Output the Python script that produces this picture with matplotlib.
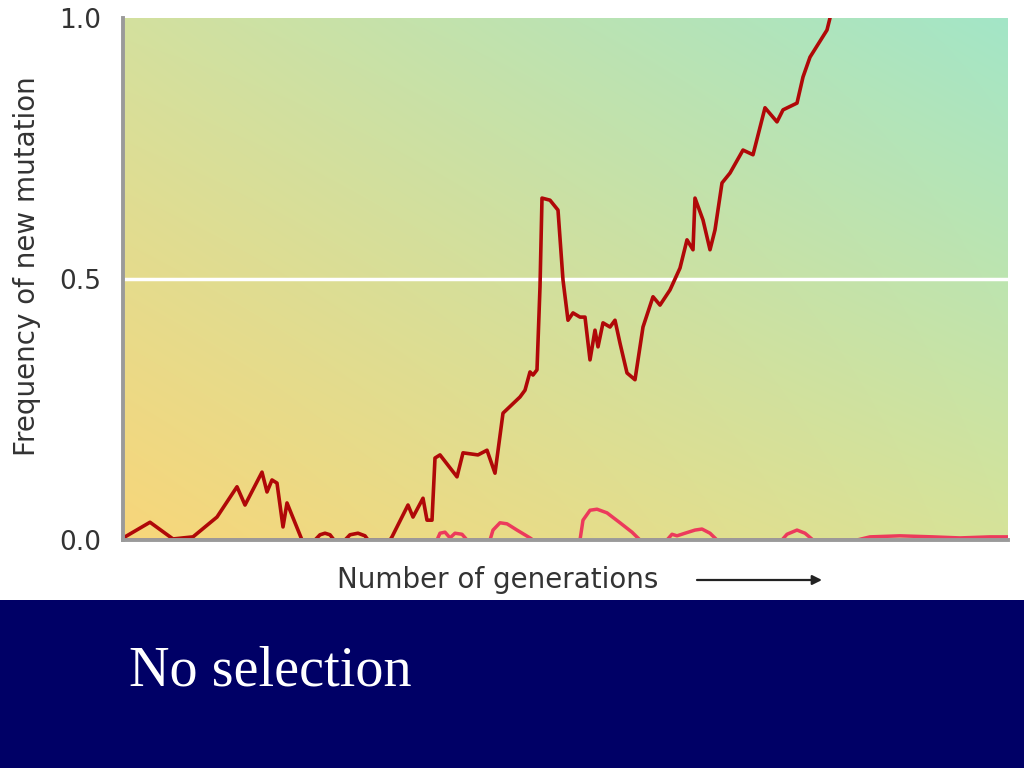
import numpy as np
import matplotlib
matplotlib.use("Agg")
import matplotlib.pyplot as plt
from matplotlib.patches import Rectangle

# ---- data (generations in arbitrary units, frequency 0..1) ----
sel_gen = [0, 2, 27, 50, 70, 94, 114, 122, 139, 144, 149, 154, 160, 164, 179,
           192, 197, 202, 207, 211, 222, 227, 235, 242, 245, 267, 269, 285, 290, 300,
           304, 309, 312, 317, 334, 340, 355, 364, 372, 380, 397, 402, 407, 410, 414,
           417, 419, 427, 435, 440, 445, 450, 457, 462, 467, 472, 475, 480, 487, 492,
           497, 504, 512, 520, 530, 537, 547, 557, 564, 570, 572, 580, 587, 592, 599,
           607, 620, 630, 642, 654, 660, 674, 680, 687, 704, 707]
sel_freq = [0.000, 0.006, 0.034, 0.002, 0.006, 0.044, 0.102, 0.067, 0.130, 0.092,
            0.115, 0.109, 0.025, 0.071, 0.000, 0.000, 0.010, 0.013, 0.010, 0.000,
            0.000, 0.010, 0.013, 0.008, 0.000, 0.000, 0.006, 0.067, 0.044, 0.080,
            0.038, 0.038, 0.157, 0.163, 0.121, 0.167, 0.163, 0.172, 0.128, 0.243,
            0.274, 0.287, 0.322, 0.316, 0.326, 0.485, 0.655, 0.651, 0.632, 0.498,
            0.421, 0.435, 0.427, 0.427, 0.345, 0.402, 0.370, 0.416, 0.408, 0.421,
            0.377, 0.320, 0.307, 0.408, 0.466, 0.450, 0.479, 0.521, 0.575, 0.556,
            0.655, 0.613, 0.556, 0.594, 0.684, 0.703, 0.747, 0.738, 0.828, 0.801,
            0.824, 0.837, 0.887, 0.925, 0.977, 1.000]

lost_gen = [0, 314, 317, 322, 327, 332, 339, 344, 367, 370, 377, 384, 394, 407, 410,
            457, 460, 467, 474, 484, 497, 509, 517, 544, 549, 554, 562, 572, 579, 587,
            594, 659, 664, 674, 682, 690, 734, 747, 777, 810, 837, 867, 885]
lost_freq = [0, 0, 0.013, 0.015, 0.004, 0.013, 0.011, 0, 0, 0.019, 0.033, 0.031, 0.019,
             0.004, 0, 0, 0.038, 0.057, 0.059, 0.052, 0.033, 0.015, 0, 0, 0.011, 0.008,
             0.013, 0.019, 0.021, 0.013, 0, 0, 0.011, 0.019, 0.013, 0, 0, 0.006, 0.008,
             0.006, 0.004, 0.006, 0.006]

y_ticks = [0.0, 0.5, 1.0]
y_tick_labels = ["0.0", "0.5", "1.0"]
x_max = 885

# ---- figure ----
fig = plt.figure(figsize=(10.24, 7.68), dpi=100)
fig.patch.set_facecolor("white")

# navy band with caption
fig.patches.append(Rectangle((0, 0), 1, 168 / 768, transform=fig.transFigure,
                             facecolor="#000066", edgecolor="none", zorder=0))
fig.text(129 / 1024, 1 - 672 / 768, "No selection", color="white",
         family="Liberation Serif", fontsize=40.5, va="center", ha="left")

ax = fig.add_axes([123 / 1024, 1 - 540 / 768, 885 / 1024, 522 / 768])

# gradient background
n = 200
u = np.linspace(0, 1, n)[None, :]
v = np.linspace(0, 1, n)[:, None]
BL = np.array([0.97, 0.84, 0.48])
BR = np.array([0.84, 0.89, 0.60])
TL = np.array([0.83, 0.88, 0.62])
TR = np.array([0.64, 0.90, 0.78])
img = ((1 - u) * (1 - v))[..., None] * BL + (u * (1 - v))[..., None] * BR + \
      ((1 - u) * v)[..., None] * TL + (u * v)[..., None] * TR
ax.imshow(img, origin="lower", extent=(0, x_max, 0, 1), aspect="auto",
          interpolation="bilinear", zorder=0)

ax.axhline(0.5, color="white", lw=2.5, zorder=1)

ax.plot(lost_gen, lost_freq, color="#ec3a5c", lw=2.5, solid_joinstyle="round",
        solid_capstyle="round", zorder=2)
ax.plot(sel_gen, sel_freq, color="#b00808", lw=2.6, solid_joinstyle="round",
        solid_capstyle="round", zorder=3)

ax.set_xlim(0, x_max)
ax.set_ylim(0, 1)
ax.set_xticks([])
ax.set_yticks(y_ticks)
ax.set_yticklabels(y_tick_labels, family="DejaVu Sans", fontsize=19, color="#333333")
ax.tick_params(axis="y", length=0, pad=16)

for s in ["top", "right"]:
    ax.spines[s].set_visible(False)
for s in ["left", "bottom"]:
    ax.spines[s].set_color("#9a9a9a")
    ax.spines[s].set_linewidth(2.8)
    ax.spines[s].set_zorder(4)

fig.text(27 / 1024, 1 - 266 / 768, "Frequency of new mutation", rotation=90,
         family="DejaVu Sans", fontsize=20, color="#333333", ha="center", va="center")
fig.text(337 / 1024, 1 - 580 / 768, "Number of generations",
         family="DejaVu Sans", fontsize=20, color="#333333", ha="left", va="center")
ax.annotate("", xy=(822 / 1024, 1 - 580 / 768), xytext=(697 / 1024, 1 - 580 / 768),
            xycoords="figure fraction", textcoords="figure fraction",
            arrowprops=dict(arrowstyle="-|>", color="#222222", lw=1.6,
                            mutation_scale=14, shrinkA=0, shrinkB=0))

fig.savefig("out.png", dpi=100)
